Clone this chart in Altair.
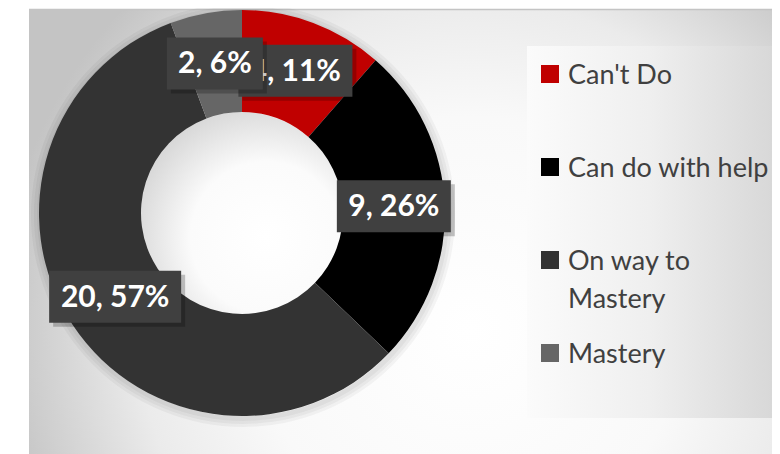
import altair as alt
import pandas as pd

# ---- data ----
categories = ["Can't Do", "Can do with help", "On way to Mastery", "Mastery"]
counts = [4, 9, 20, 2]
colors = ["#C00000", "#000000", "#333333", "#666666"]
legend_labels = ["Can't Do", "Can do with help", "On way to\nMastery", "Mastery"]

df = pd.DataFrame({
    "idx": list(range(len(categories))),
    "category": categories,
    "count": counts,
    "legend": legend_labels,
})

# ---- layout ----
W, H = 764, 446
CX, CY = 234, 205
R_OUT, R_IN, R_LAB = 203, 101, 152
TAU = 6.283185

one = alt.Chart(pd.DataFrame({"k": [0]}))
base = alt.Chart(df)

color_scale = alt.Scale(domain=categories, range=colors)

# background with radial gradient (square box so the gradient is circular, clipped to view)
bg = one.mark_rect(
    clip=True,
    color={
        "gradient": "radial",
        "x1": 0.587, "y1": 0.427, "r1": 0,
        "x2": 0.587, "y2": 0.427, "r2": 0.63,
        "stops": [
            {"offset": 0, "color": "#ffffff"},
            {"offset": 0.45, "color": "#f9f9f9"},
            {"offset": 0.7, "color": "#ebebeb"},
            {"offset": 1, "color": "#c4c4c4"},
        ],
    },
).encode(x=alt.value(21), x2=alt.value(772), y=alt.value(1), y2=alt.value(752))

top_line = one.mark_rule(color="#c4c4c4", strokeWidth=1.5).encode(
    x=alt.value(21), x2=alt.value(W), y=alt.value(1.5)
)

# legend box
legend_box = one.mark_rect(
    color={
        "gradient": "linear",
        "x1": 0, "y1": 0.5, "x2": 1, "y2": 0.5,
        "stops": [
            {"offset": 0, "color": "#fbfbfb"},
            {"offset": 0.5, "color": "#efefef"},
            {"offset": 1, "color": "#d8d8d8"},
        ],
    }
).encode(x=alt.value(519), x2=alt.value(W), y=alt.value(38), y2=alt.value(410))

# soft shadow round the donut
shadows = [
    one.mark_arc(theta=0, theta2=TAU, innerRadius=R_OUT - 2, outerRadius=R_OUT + k,
                 color="#000000", opacity=0.04).encode(x=alt.value(CX + 1), y=alt.value(CY + 2))
    for k in (3, 6, 9)
]

# hole shading
hole = one.mark_arc(
    theta=0, theta2=TAU, innerRadius=0, outerRadius=R_IN,
    color={
        "gradient": "radial",
        "x1": 0.62, "y1": 0.62, "r1": 0,
        "x2": 0.62, "y2": 0.62, "r2": 0.68,
        "stops": [
            {"offset": 0, "color": "#ffffff"},
            {"offset": 0.55, "color": "#fbfbfb"},
            {"offset": 1, "color": "#d6d6d6"},
        ],
    },
).encode(x=alt.value(CX), y=alt.value(CY))

arcs = base.mark_arc(innerRadius=R_IN, outerRadius=R_OUT).encode(
    theta=alt.Theta("count:Q", stack=True),
    color=alt.Color("category:N", scale=color_scale, legend=None),
    order=alt.Order("idx:Q"),
    x=alt.value(CX),
    y=alt.value(CY),
)

# data labels
lab = (
    base.transform_joinaggregate(total="sum(count)")
    .transform_window(cum="sum(count)", sort=[alt.SortField("idx")], frame=[None, 0])
    .transform_calculate(mid="(datum.cum - datum.count/2) / datum.total * 2 * PI")
    .transform_calculate(px=f"{CX} + {R_LAB} * sin(datum.mid)")
    .transform_calculate(py=f"{CY} - {R_LAB} * cos(datum.mid)")
    .transform_calculate(label="datum.count + ', ' + format(datum.count / datum.total, '.0%')")
    .transform_calculate(bw="length(datum.label) * 18 + 6")
    .transform_calculate(bx1="datum.px - datum.bw / 2", bx2="datum.px + datum.bw / 2")
    .transform_calculate(by1="datum.py - 26", by2="datum.py + 26")
    .transform_calculate(sx1="datum.bx1 + 4", sx2="datum.bx2 + 4",
                         sy1="datum.by1 + 4", sy2="datum.by2 + 4")
)

label_layers = []
for i in range(len(categories)):
    li = lab.transform_filter(f"datum.idx == {i}")
    shadow = li.mark_rect(color="#000000", opacity=0.22).encode(
        x=alt.X("sx1:Q", scale=None), x2="sx2:Q",
        y=alt.Y("sy1:Q", scale=None), y2="sy2:Q",
    )
    box = li.mark_rect(color="#404040").encode(
        x=alt.X("bx1:Q", scale=None), x2="bx2:Q",
        y=alt.Y("by1:Q", scale=None), y2="by2:Q",
    )
    txt = li.mark_text(
        font="Lato", fontSize=30, fontWeight="bold", color="#ffffff",
        align="center", baseline="middle", dy=1,
    ).encode(
        x=alt.X("px:Q", scale=None), y=alt.Y("py:Q", scale=None), text="label:N"
    )
    label_layers += [shadow, box, txt]

# legend entries
leg = base.transform_calculate(ly="66 + 93 * datum.idx")
leg_sq = leg.mark_square(size=324, opacity=1).encode(
    x=alt.value(542),
    y=alt.Y("ly:Q", scale=None),
    color=alt.Color("category:N", scale=color_scale, legend=None),
)
leg_txt = leg.mark_text(
    font="Lato", fontSize=27, color="#404040", align="left", baseline="alphabetic",
    dy=10, lineBreak="\n", lineHeight=38,
).encode(x=alt.value(560), y=alt.Y("ly:Q", scale=None), text="legend:N")

chart = alt.layer(
    bg, top_line, legend_box, *shadows, hole, arcs, *label_layers, leg_sq, leg_txt
).properties(
    width=W, height=H, padding=0, autosize="none", background="#ffffff"
).configure_view(stroke=None)

chart.save("out.html", embed_options={"renderer": "svg", "actions": False})
